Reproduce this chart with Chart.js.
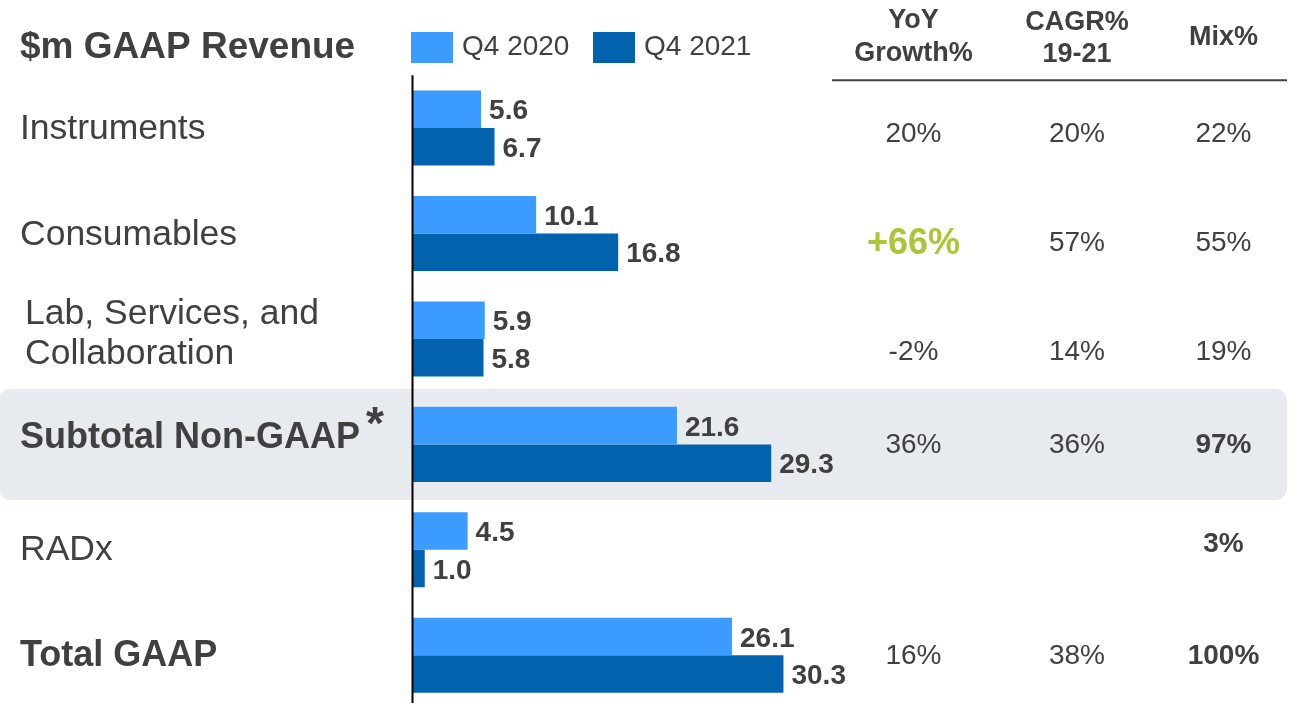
<!DOCTYPE html>
<html>
<head>
<meta charset="utf-8">
<script src="https://cdn.jsdelivr.net/npm/chart.js@4/dist/chart.umd.min.js"></script>
<style>
  html, body { margin: 0; padding: 0; background: #fff; overflow: hidden; }
  #wrap { width: 1294px; height: 708px; }
</style>
</head>
<body>
<div id="wrap"><canvas id="revenueChart" width="1294" height="708"></canvas></div>
<script>
// revenue by product line, $m
const categories = ['Instruments', 'Consumables', ['Lab, Services, and', 'Collaboration'], 'Subtotal Non-GAAP', 'RADx', 'Total GAAP'];
const boldRows = [false, false, false, true, false, true];
const q4_2020 = [5.6, 10.1, 5.9, 21.6, 4.5, 26.1];
const q4_2021 = [6.7, 16.8, 5.8, 29.3, 1.0, 30.3];

// side table columns
const tableHeaders = [['YoY', 'Growth%'], ['CAGR%', '19-21'], ['Mix%']];
const yoyGrowth = ['20%', '+66%', '-2%', '36%', '', '16%'];
const cagr1921 = ['20%', '57%', '14%', '36%', '', '38%'];
const mixPct = ['22%', '55%', '19%', '97%', '3%', '100%'];

const TEXT = '#404040';
const LIGHT = '#3c9bff';
const DARK = '#0362ad';
const FONT = '"Liberation Sans", Arial, sans-serif';

// little nudges so text sits where the slide had it
const labelShift = [-2, -1, -8, -9.5, -2.5, -2];
const tableShift = [4, 8, 11, -1, -8, -1];
const colX = [913.5, 1077, 1223.5];

function capText(ctx, text, x, cy, size, weight, align, color) {
  ctx.font = weight + ' ' + size + 'px ' + FONT;
  ctx.fillStyle = color || TEXT;
  ctx.textAlign = align || 'left';
  ctx.textBaseline = 'alphabetic';
  ctx.fillText(text, x, cy + 0.358 * size);
}

const decorations = {
  id: 'decorations',
  beforeDatasetsDraw(chart) {
    const ctx = chart.ctx;
    const y = chart.scales.y;
    const half = (y.getPixelForValue(1) - y.getPixelForValue(0)) * 0.527;
    const cy = y.getPixelForValue(3);
    ctx.save();
    ctx.fillStyle = '#e7eaef';
    ctx.beginPath();
    ctx.roundRect(-1, cy - half, 1288, half * 2, 12);
    ctx.fill();
    ctx.restore();
  },
  afterDatasetsDraw(chart) {
    const ctx = chart.ctx;
    const x = chart.scales.x;
    const y = chart.scales.y;
    ctx.save();

    // zero line
    const x0 = x.getPixelForValue(0);
    ctx.strokeStyle = '#000';
    ctx.lineWidth = 2;
    ctx.beginPath();
    ctx.moveTo(x0, chart.chartArea.top);
    ctx.lineTo(x0, chart.height);
    ctx.stroke();

    // value labels at bar ends
    chart.data.datasets.forEach((ds, di) => {
      chart.getDatasetMeta(di).data.forEach((bar, i) => {
        capText(ctx, ds.data[i].toFixed(1), bar.x + 8, bar.y, 28, 'bold');
      });
    });

    // title and legend
    capText(ctx, '$m GAAP Revenue', 20, 44.8, 37, 'bold');
    const legendX = [411, 593];
    chart.data.datasets.forEach((ds, di) => {
      ctx.fillStyle = ds.backgroundColor;
      ctx.fillRect(legendX[di], 32, 42, 31);
      capText(ctx, ds.label, legendX[di] + 51, 45, 28, 'normal');
    });

    // category labels
    categories.forEach((cat, i) => {
      const cy = y.getPixelForValue(i) + labelShift[i];
      const w = boldRows[i] ? 'bold' : 'normal';
      if (Array.isArray(cat)) {
        capText(ctx, cat[0], 25, cy - 20, 35.5, w);
        capText(ctx, cat[1], 25, cy + 20, 35.5, w);
      } else {
        capText(ctx, cat, 20, cy, boldRows[i] ? 36 : 35.5, w);
      }
    });
    // footnote mark on the subtotal
    ctx.font = 'bold 46px ' + FONT;
    ctx.fillStyle = TEXT;
    ctx.textAlign = 'left';
    ctx.fillText('*', 366, 439);

    // table header
    capText(ctx, tableHeaders[0][0], colX[0], 18.5, 27, 'bold', 'center');
    capText(ctx, tableHeaders[0][1], colX[0], 51.5, 27, 'bold', 'center');
    capText(ctx, tableHeaders[1][0], colX[1], 20, 27, 'bold', 'center');
    capText(ctx, tableHeaders[1][1], colX[1], 52.5, 27, 'bold', 'center');
    capText(ctx, tableHeaders[2][0], colX[2], 35.5, 27, 'bold', 'center');
    ctx.strokeStyle = TEXT;
    ctx.lineWidth = 2;
    ctx.beginPath();
    ctx.moveTo(832, 80.3);
    ctx.lineTo(1287, 80.3);
    ctx.stroke();

    // table rows
    categories.forEach((cat, i) => {
      const cy = y.getPixelForValue(i) + tableShift[i];
      if (yoyGrowth[i] === '+66%') {
        capText(ctx, yoyGrowth[i], colX[0], cy, 36, 'bold', 'center', '#adc53a');
      } else if (yoyGrowth[i]) {
        capText(ctx, yoyGrowth[i], colX[0], cy, 28, 'normal', 'center');
      }
      if (cagr1921[i]) capText(ctx, cagr1921[i], colX[1], cy, 28, 'normal', 'center');
      const mixBold = i >= 3;
      capText(ctx, mixPct[i], colX[2], cy, 28, mixBold ? 'bold' : 'normal', 'center');
    });

    ctx.restore();
  }
};

new Chart(document.getElementById('revenueChart').getContext('2d'), {
  type: 'bar',
  data: {
    labels: categories,
    datasets: [
      { label: 'Q4 2020', data: q4_2020, backgroundColor: LIGHT },
      { label: 'Q4 2021', data: q4_2021, backgroundColor: DARK }
    ]
  },
  options: {
    indexAxis: 'y',
    responsive: false,
    animation: false,
    devicePixelRatio: 1,
    categoryPercentage: 0.712,
    barPercentage: 1,
    layout: { padding: { left: 412.5, right: 0, top: 75.3, bottom: 0 } },
    scales: {
      x: { display: false, min: 0, max: 72 },
      y: { display: false }
    },
    plugins: {
      legend: { display: false },
      tooltip: { enabled: false }
    }
  },
  plugins: [decorations]
});
</script>
</body>
</html>
